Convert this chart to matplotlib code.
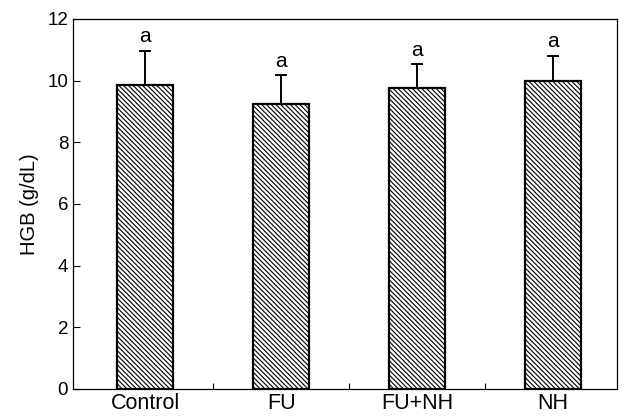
import matplotlib
matplotlib.use("Agg")
import matplotlib.pyplot as plt
import numpy as np

groups = ["Control", "FU", "FU+NH", "NH"]
hgb = [9.84, 9.25, 9.77, 9.97]
sd = [1.13, 0.93, 0.75, 0.84]
letters = ["a", "a", "a", "a"]

plt.rcParams['font.family'] = ['Liberation Sans', 'DejaVu Sans']
plt.rcParams['hatch.linewidth'] = 0.8

fig = plt.figure(figsize=(6.24, 4.19), dpi=100)
ax = fig.add_axes([0.117, 0.072, 0.872, 0.883])

x = np.arange(len(groups))
bars = ax.bar(x, hgb, width=0.41, color='white', edgecolor='black',
              linewidth=1.6, hatch='\\\\\\\\\\\\\\', zorder=2)
ax.errorbar(x, hgb, yerr=[np.zeros(len(sd)), sd], fmt='none', ecolor='black',
            elinewidth=1.4, capsize=4.5, capthick=1.4, zorder=1)

for xi, top, lab in zip(x, np.array(hgb) + np.array(sd), letters):
    ax.annotate(lab, (xi, top), xytext=(0, 3), textcoords='offset points',
                ha='center', va='bottom', fontsize=15)

ax.set_xlim(-0.53, 3.47)
ax.set_ylim(0, 12)
ax.set_yticks(range(0, 13, 2))
ax.set_xticks(x)
ax.set_xticklabels(groups, fontsize=15.5)
ax.set_xticks([0.5, 1.5, 2.5], minor=True)
ax.tick_params(axis='x', which='major', length=0, pad=3)
ax.tick_params(axis='x', which='minor', direction='in', length=4, width=0.8)
ax.tick_params(axis='y', direction='in', length=5, width=0.8, labelsize=13.5)
ax.set_ylabel("HGB (g/dL)", fontsize=14.5, labelpad=6)
for s in ax.spines.values():
    s.set_linewidth(0.9)

fig.savefig("out.png", dpi=100)
